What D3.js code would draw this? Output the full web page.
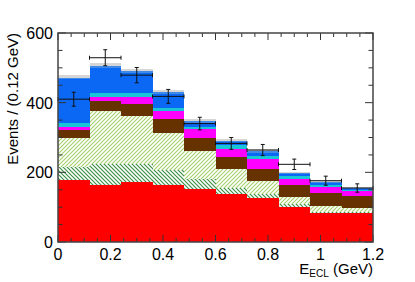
<!DOCTYPE html>
<html>
<head>
<meta charset="utf-8">
<script src="https://cdn.jsdelivr.net/npm/d3@7"></script>
<style>
  body { margin: 0; background: #fff; }
  text { font-family: "Liberation Sans", Arial, sans-serif; fill: #000; }
</style>
</head>
<body>
<div id="chart"></div>
<script>
// bin edges in GeV
const binEdges = [0, 0.12, 0.24, 0.36, 0.48, 0.6, 0.72, 0.84, 0.96, 1.08, 1.2];

// stacked components, events per bin (bottom to top)
const redComp     = [179, 165, 173, 163, 152, 138, 125, 101, 82, 84];
const darkHatch   = [37, 59, 52, 43, 28, 18, 12, 7, 4, 3];
const lightHatch  = [83, 151, 137, 108, 81, 54, 38, 20, 18, 11];
const brownComp   = [22, 29, 35, 38, 38, 34, 36, 36, 38, 35];
const magentaComp = [8, 12, 19, 23, 24, 24, 26, 17, 15, 13];
const cyanComp    = [13, 12, 12, 11, 7, 11, 9, 9, 6, 3];
const blueComp    = [125, 72, 56, 38, 12, 8, 9, 6, 5, 3];
const blue2Comp   = [5, 6, 6, 6, 6, 4, 5, 3, 4, 3];
const grayComp    = [8, 8, 6, 6, 6, 5, 6, 3, 4, 3];

// data points with errors
const dataCounts = [410, 529, 479, 418, 340, 283, 264, 223, 176, 155];
const dataErrors = [20, 23, 22, 20, 18, 17, 16, 15, 13, 12];

const xTicks = [0, 0.2, 0.4, 0.6, 0.8, 1, 1.2];
const yTicks = [0, 200, 400, 600];

const width = 415;
const height = 282;
const margin = {top: 33, left: 58, right: 42, bottom: 40};

const svg = d3.select("#chart")
    .append("svg")
    .attr("width", width)
    .attr("height", height);

const defs = svg.append("defs");

// light green "/" hatch
const p1 = defs.append("pattern")
    .attr("id", "hatchLight")
    .attr("patternUnits", "userSpaceOnUse")
    .attr("width", 4).attr("height", 4);
p1.append("rect").attr("width", 4).attr("height", 4).attr("fill", "#fff");
p1.append("path")
    .attr("d", "M-1,1 l2,-2 M0,4 l4,-4 M3,5 l2,-2")
    .attr("stroke", "#a6cf6a").attr("stroke-width", 1.1);

// dark green "\" hatch
const p2 = defs.append("pattern")
    .attr("id", "hatchDark")
    .attr("patternUnits", "userSpaceOnUse")
    .attr("width", 4).attr("height", 4);
p2.append("rect").attr("width", 4).attr("height", 4).attr("fill", "#fff");
p2.append("path")
    .attr("d", "M-1,3 l2,2 M0,0 l4,4 M3,-1 l2,2")
    .attr("stroke", "#3c8f45").attr("stroke-width", 1.2);

const xScale = d3.scaleLinear()
    .domain([0, 1.2])
    .range([margin.left, width - margin.right]);

const yScale = d3.scaleLinear()
    .domain([0, 600])
    .range([height - margin.bottom, margin.top]);

const keys = ["red", "dark", "light", "brown", "magenta", "cyan", "blue", "blue2", "gray"];
const fills = {
    red: "#ff0000",
    dark: "url(#hatchDark)",
    light: "url(#hatchLight)",
    brown: "#663300",
    magenta: "#ff00ff",
    cyan: "#18c6d6",
    blue: "#0a68f4",
    blue2: "#3f8ae8",
    gray: "#d6d6d6"
};

const table = redComp.map(function(v, i) {
    return {
        x0: binEdges[i], x1: binEdges[i + 1],
        red: v, dark: darkHatch[i], light: lightHatch[i], brown: brownComp[i],
        magenta: magentaComp[i], cyan: cyanComp[i], blue: blueComp[i],
        blue2: blue2Comp[i], gray: grayComp[i]
    };
});

const series = d3.stack().keys(keys)(table);

const layers = svg.append("g");
series.forEach(function(s) {
    layers.append("g")
        .selectAll("rect")
        .data(s)
        .enter()
        .append("rect")
        .attr("x", function(d) { return xScale(d.data.x0); })
        .attr("width", function(d) { return xScale(d.data.x1) - xScale(d.data.x0); })
        .attr("y", function(d) { return yScale(d[1]); })
        .attr("height", function(d) { return yScale(d[0]) - yScale(d[1]); })
        .attr("fill", fills[s.key])
        .attr("shape-rendering", "crispEdges");
});

// data points
const pts = svg.append("g")
    .attr("stroke", "#111")
    .attr("stroke-width", 1);

dataCounts.forEach(function(n, i) {
    const xa = xScale(binEdges[i]), xb = xScale(binEdges[i + 1]);
    const xc = (xa + xb) / 2;
    const yc = yScale(n);
    const yt = yScale(n + dataErrors[i]), yb = yScale(n - dataErrors[i]);
    pts.append("line").attr("x1", xa).attr("x2", xb).attr("y1", yc).attr("y2", yc);
    pts.append("line").attr("x1", xc).attr("x2", xc).attr("y1", yt).attr("y2", yb);
    pts.append("line").attr("x1", xc - 2).attr("x2", xc + 2).attr("y1", yt).attr("y2", yt);
    pts.append("line").attr("x1", xc - 2).attr("x2", xc + 2).attr("y1", yb).attr("y2", yb);
    pts.append("line").attr("x1", xa).attr("x2", xa).attr("y1", yc - 2).attr("y2", yc + 2);
    pts.append("line").attr("x1", xb).attr("x2", xb).attr("y1", yc - 2).attr("y2", yc + 2);
});

// axes, ROOT style ticks inside on all four sides
const x0 = xScale(0), x1 = xScale(1.2), y0 = yScale(0), y1 = yScale(600);
const axes = svg.append("g")
    .attr("stroke", "#333")
    .attr("stroke-width", 1);

d3.range(0, 1.2001, 0.05).forEach(function(v) {
    const major = Math.abs(v / 0.2 - Math.round(v / 0.2)) < 1e-6;
    const len = major ? 7 : 4;
    const xp = xScale(v);
    axes.append("line").attr("x1", xp).attr("x2", xp).attr("y1", y0).attr("y2", y0 - len);
    axes.append("line").attr("x1", xp).attr("x2", xp).attr("y1", y1).attr("y2", y1 + len);
});
d3.range(0, 600.1, 50).forEach(function(v) {
    const major = v % 200 === 0;
    const len = major ? 8 : 4.5;
    const yp = yScale(v);
    axes.append("line").attr("x1", x0).attr("x2", x0 + len).attr("y1", yp).attr("y2", yp);
    axes.append("line").attr("x1", x1).attr("x2", x1 - len).attr("y1", yp).attr("y2", yp);
});

svg.append("rect")
    .attr("x", x0).attr("y", y1)
    .attr("width", x1 - x0).attr("height", y0 - y1)
    .attr("fill", "none")
    .attr("stroke", "#444")
    .attr("stroke-width", 1.5);

svg.append("g")
    .selectAll("text")
    .data(xTicks)
    .enter()
    .append("text")
    .attr("x", function(d) { return xScale(d); })
    .attr("y", 260)
    .attr("text-anchor", "middle")
    .attr("font-size", 16)
    .text(function(d) { return d; });

svg.append("g")
    .selectAll("text")
    .data(yTicks)
    .enter()
    .append("text")
    .attr("x", 53)
    .attr("y", function(d) { return yScale(d) + 6; })
    .attr("text-anchor", "end")
    .attr("font-size", 16)
    .text(function(d) { return d; });

// axis titles
const xt = svg.append("text")
    .attr("x", 373)
    .attr("y", 274)
    .attr("text-anchor", "end")
    .attr("font-size", 15);
xt.append("tspan").text("E");
xt.append("tspan").attr("font-size", 10).attr("dy", 3).text("ECL");
xt.append("tspan").attr("dy", -3).text(" (GeV)");

svg.append("text")
    .attr("transform", "translate(18,33) rotate(-90)")
    .attr("text-anchor", "end")
    .attr("font-size", 15)
    .text("Events / (0.12 GeV)");
</script>
</body>
</html>
